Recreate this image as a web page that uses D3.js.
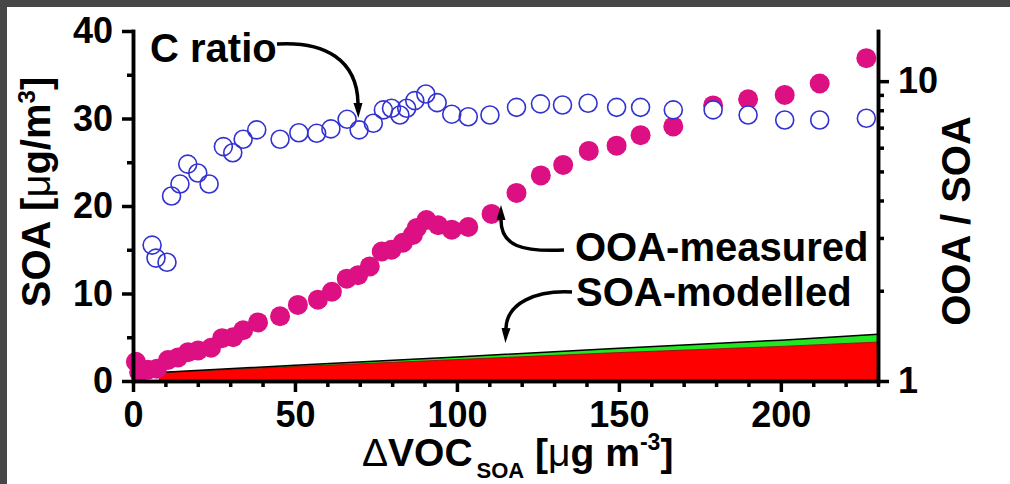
<!DOCTYPE html>
<html>
<head>
<meta charset="utf-8">
<script src="https://cdn.jsdelivr.net/npm/d3@7"></script>
<style>
  html, body { margin: 0; padding: 0; background: #fff; }
  svg { display: block; }
  text { font-family: "Liberation Sans", Arial, sans-serif; }
</style>
</head>
<body>
<svg id="chart" width="1010" height="484"></svg>
<script>
// ---- data ----
// measured OOA (left axis, µg/m3) vs ΔVOC_SOA
const ooaX = [0.9, 1.9, 4.6, 7.4, 10.8, 13.9, 17.0, 20.1, 24.1, 27.5, 30.9, 34.0, 38.6, 45.4, 50.9, 57.1, 61.4, 66.0, 69.5, 73.1, 76.8, 79.8, 83.3, 86.4, 87.6, 90.6, 94.2, 98.4, 103.5, 110.7, 118.4, 125.9, 132.8, 140.7, 149.3, 156.7, 166.8, 179.1, 189.9, 201.2, 212.0, 226.4];
const ooaY = [2.2, 1.0, 1.3, 1.4, 2.4, 2.7, 3.3, 3.5, 3.8, 4.9, 5.0, 5.8, 6.7, 7.4, 8.7, 9.3, 10.2, 11.7, 12.1, 13.1, 14.8, 15.0, 15.8, 16.7, 17.5, 18.4, 17.8, 17.3, 17.6, 19.1, 21.5, 23.5, 24.7, 26.3, 26.9, 28.1, 29.1, 31.5, 32.2, 32.7, 34.0, 36.9];

// OOA / SOA ratio (right log axis)
const ratioX = [5.9, 7.1, 10.5, 11.9, 14.5, 16.9, 20.0, 23.5, 27.9, 30.8, 34.0, 38.2, 45.4, 51.2, 56.7, 61.1, 66.1, 69.8, 74.2, 77.3, 79.8, 82.4, 84.5, 87.0, 90.4, 93.9, 98.4, 103.5, 110.2, 118.4, 125.8, 132.6, 140.5, 149.3, 156.7, 166.8, 179.1, 189.9, 201.2, 212.0, 226.4];
const ratioY = [2.84, 2.57, 2.49, 4.14, 4.54, 5.29, 4.94, 4.54, 6.05, 5.77, 6.40, 6.88, 6.40, 6.73, 6.70, 6.93, 7.46, 6.88, 7.24, 8.02, 8.12, 7.71, 8.12, 8.61, 9.06, 8.48, 7.76, 7.61, 7.71, 8.18, 8.40, 8.33, 8.44, 8.18, 8.18, 8.02, 8.02, 7.71, 7.42, 7.42, 7.52];

// modelled SOA, two stacked contributions (µg/m3)
const modelX = [8, 50, 100, 150, 200, 230];
const modelRed = [0.95, 1.65, 2.45, 3.25, 3.95, 4.45];
const modelGreen = [0.02, 0.15, 0.30, 0.50, 0.72, 0.90];

// axis ticks
const xMajor = [0, 50, 100, 150, 200];
const xMinor = [10, 20, 30, 40, 60, 70, 80, 90, 110, 120, 130, 140, 160, 170, 180, 190, 210, 220, 230];
const yMajor = [0, 10, 20, 30, 40];
const yMinor = [5, 15, 25, 35];
const rMajor = [1, 10];
const rMinor = [2, 3, 4, 5, 6, 7, 8, 9];

// ---- layout ----
const W = 1010, H = 484;
const FONT = '"Liberation Sans", Arial, sans-serif';
const svg = d3.select("#chart");

svg.append("rect").attr("width", W).attr("height", H).attr("fill", "#fff");
svg.append("rect").attr("x", 0).attr("y", 0).attr("width", W).attr("height", 7).attr("fill", "#474747");
svg.append("rect").attr("x", 0).attr("y", 0).attr("width", 7).attr("height", H).attr("fill", "#474747");

const x = d3.scaleLinear().domain([0, 230]).range([133, 878]);
const yL = d3.scaleLinear().domain([0, 40]).range([381, 31]);
const yR = d3.scaleLog().domain([1, 14.7]).range([381, 31]);

// ---- modelled SOA areas ----
const redRows = modelX.map((v, i) => ({ x: v, y0: 0, y1: modelRed[i] }));
const greenRows = modelX.map((v, i) => ({ x: v, y0: modelRed[i], y1: modelRed[i] + modelGreen[i] }));
const area = d3.area().x(d => x(d.x)).y0(d => yL(d.y0)).y1(d => yL(d.y1));
const topLine = d3.line().x(d => x(d.x)).y(d => yL(d.y1));

svg.append("path").datum(greenRows).attr("d", area).attr("fill", "#22e622");
svg.append("path").datum(redRows).attr("d", area).attr("fill", "#ff0000");
svg.append("path").datum(redRows).attr("d", topLine).attr("fill", "none").attr("stroke", "#7a1a00").attr("stroke-width", 0.9);
svg.append("path").datum(greenRows).attr("d", topLine).attr("fill", "none").attr("stroke", "#000").attr("stroke-width", 1.5);

// ---- measured OOA ----
svg.append("g").selectAll("circle").data(ooaX).join("circle")
  .attr("cx", d => x(d)).attr("cy", (d, i) => yL(ooaY[i])).attr("r", 10)
  .attr("fill", "#dc0f83");

// ---- OOA / SOA ratio (white backing, then outlines) ----
svg.append("g").selectAll("circle").data(ratioX).join("circle")
  .attr("cx", d => x(d)).attr("cy", (d, i) => yR(ratioY[i])).attr("r", 9)
  .attr("fill", "#fff");
svg.append("g").selectAll("circle").data(ratioX).join("circle")
  .attr("cx", d => x(d)).attr("cy", (d, i) => yR(ratioY[i])).attr("r", 9)
  .attr("fill", "none").attr("stroke", "#3232d2").attr("stroke-width", 1.6);

// ---- axes ----
function styleAxis(g) {
  g.select(".domain").attr("stroke", "#000").attr("stroke-width", 3.5).attr("stroke-linecap", "square");
  g.selectAll(".tick line").attr("stroke", "#000").attr("stroke-width", 3.5);
  g.selectAll(".tick text").attr("fill", "#000").attr("font-size", 36)
    .attr("font-weight", "bold").attr("font-family", FONT);
}
const fmt = d3.format("d");

svg.append("g").attr("transform", "translate(0,381)")
  .call(d3.axisBottom(x).tickValues(xMinor).tickSize(6).tickSizeOuter(0).tickFormat(""))
  .call(styleAxis);
svg.append("g").attr("transform", "translate(0,381)")
  .call(d3.axisBottom(x).tickValues(xMajor).tickSize(11).tickSizeOuter(0).tickPadding(9).tickFormat(fmt))
  .call(styleAxis);

svg.append("g").attr("transform", "translate(133,0)")
  .call(d3.axisLeft(yL).tickValues(yMinor).tickSize(6).tickSizeOuter(0).tickFormat(""))
  .call(styleAxis);
svg.append("g").attr("transform", "translate(133,0)")
  .call(d3.axisLeft(yL).tickValues(yMajor).tickSize(11).tickSizeOuter(0).tickPadding(9).tickFormat(fmt))
  .call(styleAxis);

svg.append("g").attr("transform", "translate(878,0)")
  .call(d3.axisRight(yR).tickValues(rMinor).tickSize(6).tickSizeOuter(0).tickFormat(""))
  .call(styleAxis);
svg.append("g").attr("transform", "translate(878,0)")
  .call(d3.axisRight(yR).tickValues(rMajor).tickSize(11).tickSizeOuter(0).tickPadding(9).tickFormat(fmt))
  .call(styleAxis);

// ---- axis titles ----
const yTitle = svg.append("text").attr("transform", "translate(50,192) rotate(-90)")
  .attr("text-anchor", "middle").attr("font-size", 40).attr("font-weight", "bold")
  .attr("font-family", FONT).attr("fill", "#000");
yTitle.append("tspan").text("SOA [");
yTitle.append("tspan").attr("font-weight", "normal").text("μ");
yTitle.append("tspan").text("g/m");
yTitle.append("tspan").attr("font-size", 24).attr("dy", -15).text("3");
yTitle.append("tspan").attr("dy", 15).text("]");

svg.append("text").attr("transform", "translate(970,221) rotate(-90)")
  .attr("text-anchor", "middle").attr("font-size", 40).attr("font-weight", "bold")
  .attr("font-family", FONT).attr("fill", "#000").text("OOA / SOA");

const xTitle = svg.append("text").attr("x", 362).attr("y", 466)
  .attr("font-size", 39).attr("font-weight", "bold").attr("font-family", FONT).attr("fill", "#000");
xTitle.append("tspan").attr("font-weight", "normal").text("Δ");
xTitle.append("tspan").text("VOC");
xTitle.append("tspan").attr("font-size", 22).attr("dx", 4).attr("dy", 12).text("SOA");
xTitle.append("tspan").attr("dy", -12).text(" [");
xTitle.append("tspan").attr("font-weight", "normal").text("μ");
xTitle.append("tspan").text("g m");
xTitle.append("tspan").attr("font-size", 23).attr("dy", -16).text("-3");
xTitle.append("tspan").attr("dy", 16).text("]");

// ---- annotations ----
const defs = svg.append("defs");
defs.append("marker").attr("id", "head").attr("viewBox", "0 -5 15 10")
  .attr("refX", 0).attr("refY", 0).attr("markerWidth", 15).attr("markerHeight", 10)
  .attr("markerUnits", "userSpaceOnUse").attr("orient", "auto")
  .append("path").attr("d", "M0,-4.5L15,0L0,4.5Z").attr("fill", "#000");

function note(txt, tx, ty, pathD) {
  svg.append("text").attr("x", tx).attr("y", ty).attr("font-size", 40).attr("font-weight", "bold")
    .attr("font-family", FONT).attr("fill", "#000").text(txt);
  svg.append("path").attr("d", pathD).attr("fill", "none").attr("stroke", "#000")
    .attr("stroke-width", 3.5).attr("marker-end", "url(#head)");
}
note("C ratio", 150, 62, "M277,44 C325,41 357,60 358,103");
note("OOA-measured", 575, 261, "M564,250 C522,252 501,246 501,220");
note("SOA-modelled", 576, 306, "M572,292 C536,290 507,303 506,328");
</script>
</body>
</html>
